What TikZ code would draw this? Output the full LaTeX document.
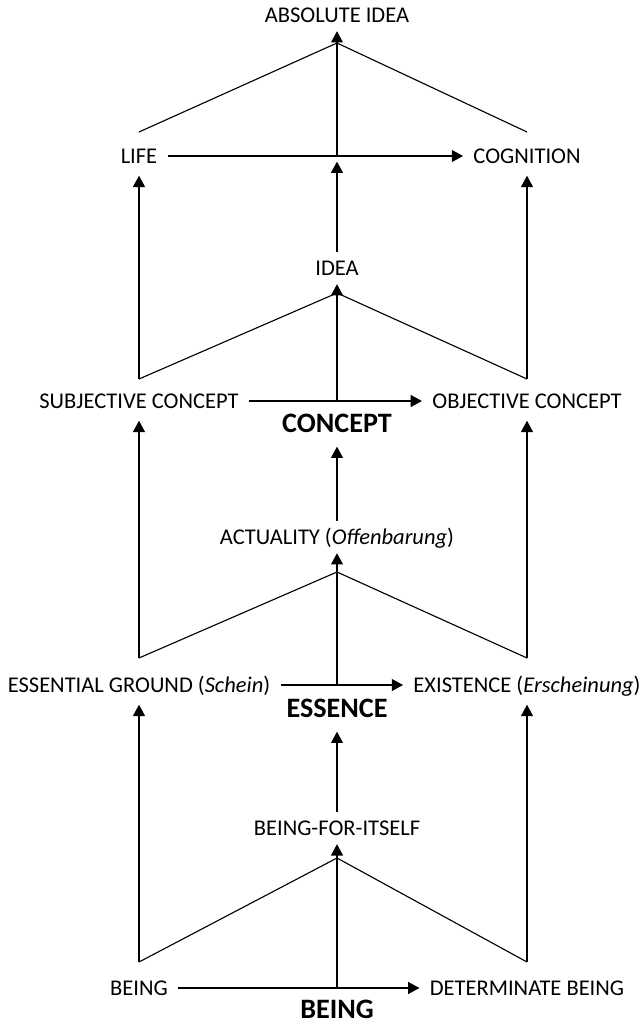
\documentclass[tikz,border=0pt]{standalone}
\usepackage{fontspec}
\setmainfont{Carlito}
\usetikzlibrary{arrows.meta}

\begin{document}
\begin{tikzpicture}[
    x=0.025cm, y=-0.025cm, line width=0.8pt,
    every node/.style={font=\fontsize{16}{19}\selectfont, text height=10.3pt, text depth=0pt, inner xsep=7pt, inner ysep=8.5pt},
    mid/.style={inner ysep=6pt},
    stage/.style={font=\fontsize{20}{24}\selectfont\bfseries, text height=12.9pt, inner ysep=10pt},
    arr/.style={-{Triangle[width=8.5pt,length=8pt]}}
]
    \useasboundingbox (0,0) rectangle (641,1025);

    \node[mid] (absidea) at (337,15) {ABSOLUTE IDEA};
    \node (life) at (139,156) {LIFE};
    \node (cognition) at (527,156) {COGNITION};
    \node[mid] (idea) at (337,268) {IDEA};
    \node (subj) at (139,401) {SUBJECTIVE CONCEPT};
    \node (obj) at (527,401) {OBJECTIVE CONCEPT};
    \node[stage] (concept) at (337,423) {CONCEPT};
    \node[mid] (actuality) at (337,537) {ACTUALITY (\textit{Offenbarung})};
    \node (ground) at (139,685) {ESSENTIAL GROUND (\textit{Schein})};
    \node (existence) at (527,685) {EXISTENCE (\textit{Erscheinung})};
    \node[stage] (essence) at (337,708) {ESSENCE};
    \node[mid] (foritself) at (337,828) {BEING-FOR-ITSELF};
    \node (being) at (139,988) {BEING};
    \node (determinate) at (527,988) {DETERMINATE BEING};
    \node[stage, inner ysep=2pt] (beingstage) at (337,1009) {BEING};

    % tops of the wedges
    \coordinate (top1) at (337,43);
    \coordinate (top2) at (337,293);
    \coordinate (top3) at (337,572);
    \coordinate (top4) at (337,858);
    % feet of the wedges
    \coordinate (l1) at (139,132); \coordinate (r1) at (527,132);
    \coordinate (l2) at (139,379); \coordinate (r2) at (527,379);
    \coordinate (l3) at (139,658); \coordinate (r3) at (527,658);
    \coordinate (l4) at (139,962); \coordinate (r4) at (527,962);
    % middle of each row
    \coordinate (m1) at (337,156);
    \coordinate (m2) at (337,401);
    \coordinate (m3) at (337,685);
    \coordinate (m4) at (337,988);

    % absolute idea
    \draw[arr] (life) -- (cognition);
    \draw[arr] (m1) -- (absidea);
    \draw (l1) -- (top1) -- (r1);

    % idea
    \draw[arr, shorten >=4pt] (idea) -- (m1);
    \draw[arr] (l2) -- (life);
    \draw[arr] (r2) -- (cognition);
    \draw[arr] (subj) -- (obj);
    \draw[arr] (m2) -- (idea);
    \draw (l2) -- (top2) -- (r2);

    % actuality
    \draw[arr] (actuality) -- (concept);
    \draw[arr] (l3) -- (subj);
    \draw[arr] (r3) -- (obj);
    \draw[arr] (ground) -- (existence);
    \draw[arr] (m3) -- (actuality);
    \draw (l3) -- (top3) -- (r3);

    % being-for-itself
    \draw[arr] (foritself) -- (essence);
    \draw[arr] (l4) -- (ground);
    \draw[arr] (r4) -- (existence);
    \draw[arr] (being) -- (determinate);
    \draw[arr] (m4) -- (foritself);
    \draw (l4) -- (top4) -- (r4);
\end{tikzpicture}
\end{document}
